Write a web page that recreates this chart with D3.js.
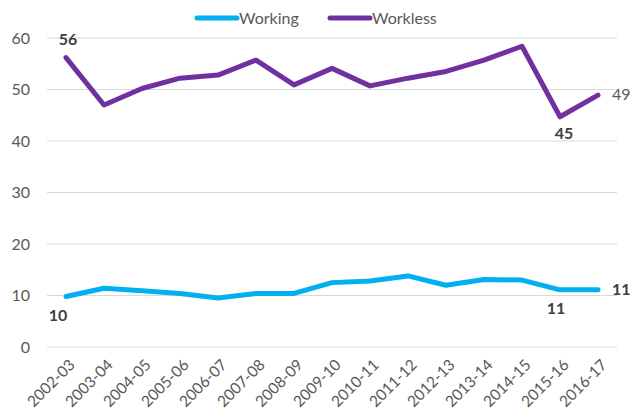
<!DOCTYPE html>
<html>
<head>
<meta charset="utf-8">
<script src="https://cdn.jsdelivr.net/npm/d3@7"></script>
<style>
  body { margin: 0; background: #fff; }
  svg { font-family: Lato, "Open Sans", sans-serif; }
</style>
</head>
<body>
<div id="chart"></div>
<script>
// Categories (financial years).
const years = ["2002-03", "2003-04", "2004-05", "2005-06", "2006-07", "2007-08", "2008-09",
  "2009-10", "2010-11", "2011-12", "2012-13", "2013-14", "2014-15", "2015-16", "2016-17"];

// Series values.
const working = [9.8, 11.4, 10.9, 10.4, 9.5, 10.4, 10.4, 12.5, 12.8, 13.8, 12.0, 13.1, 13.0, 11.1, 11.1];
const workless = [56.2, 47.0, 50.2, 52.2, 52.8, 55.7, 50.9, 54.1, 50.7, 52.2, 53.5, 55.7, 58.4, 44.7, 48.9];

const yTicks = [0, 10, 20, 30, 40, 50, 60];

const series = [
  { name: "Working", values: working, color: "#00B0F0", width: 5 },
  { name: "Workless", values: workless, color: "#7030A0", width: 5 }
];

const width = 635, height = 418;
const margin = { top: 38, right: 18, bottom: 71, left: 47 };

const svg = d3.select("#chart").append("svg")
  .attr("width", width)
  .attr("height", height);

const x = d3.scalePoint()
  .domain(years)
  .range([margin.left, width - margin.right])
  .padding(0.5);

const y = d3.scaleLinear()
  .domain([0, 60])
  .range([height - margin.bottom, margin.top]);

// Grid lines.
svg.append("g")
  .selectAll("line")
  .data(yTicks)
  .join("line")
    .attr("x1", margin.left)
    .attr("x2", width - margin.right)
    .attr("y1", d => y(d))
    .attr("y2", d => y(d))
    .attr("stroke", "#d9d9d9")
    .attr("stroke-width", 1);

// Y axis labels.
svg.append("g")
  .selectAll("text")
  .data(yTicks)
  .join("text")
    .attr("x", 30)
    .attr("y", d => y(d))
    .attr("dy", "0.35em")
    .attr("text-anchor", "end")
    .attr("fill", "#595959")
    .attr("font-size", 16)
    .text(d => d);

// X axis labels, rotated.
svg.append("g")
  .selectAll("text")
  .data(years)
  .join("text")
    .attr("transform", d => `translate(${x(d) + 6},${y(0) + 15}) rotate(-45)`)
    .attr("text-anchor", "end")
    .attr("dy", "0.35em")
    .attr("fill", "#595959")
    .attr("font-size", 15.5)
    .text(d => d);

// Lines.
const line = d3.line()
  .x((d, i) => x(years[i]))
  .y(d => y(d));

svg.append("g")
  .selectAll("path")
  .data(series)
  .join("path")
    .attr("fill", "none")
    .attr("stroke", d => d.color)
    .attr("stroke-width", d => d.width)
    .attr("stroke-linejoin", "round")
    .attr("stroke-linecap", "round")
    .attr("d", d => line(d.values));

// Data labels.
const last = years.length - 1;
const labels = [
  { i: 0, v: workless[0], dx: 2, dy: -13, anchor: "middle", bold: true },
  { i: 13, v: workless[13], dx: 4, dy: 22, anchor: "middle", bold: true },
  { i: last, v: workless[last], dx: 14, dy: 5, anchor: "start", bold: false },
  { i: 0, v: working[0], dx: -8, dy: 24, anchor: "middle", bold: true },
  { i: 13, v: working[13], dx: -4, dy: 24, anchor: "middle", bold: true },
  { i: last, v: working[last], dx: 14, dy: 5, anchor: "start", bold: true }
];

svg.append("g")
  .selectAll("text")
  .data(labels)
  .join("text")
    .attr("x", d => x(years[d.i]) + d.dx)
    .attr("y", d => y(d.v) + d.dy)
    .attr("text-anchor", d => d.anchor)
    .attr("font-size", 16)
    .attr("font-weight", d => d.bold ? "bold" : "normal")
    .attr("fill", d => d.bold ? "#404040" : "#595959")
    .text(d => Math.round(d.v));

// Legend.
const legend = svg.append("g")
  .attr("transform", "translate(197,18)");

const items = legend.selectAll("g")
  .data(series)
  .join("g")
    .attr("transform", (d, i) => `translate(${i * 133},0)`);

items.append("line")
  .attr("x1", 0)
  .attr("x2", 40)
  .attr("stroke", d => d.color)
  .attr("stroke-width", 5)
  .attr("stroke-linecap", "round");

items.append("text")
  .attr("x", 42)
  .attr("dy", "0.35em")
  .attr("fill", "#595959")
  .attr("font-size", 16)
  .text(d => d.name);
</script>
</body>
</html>
